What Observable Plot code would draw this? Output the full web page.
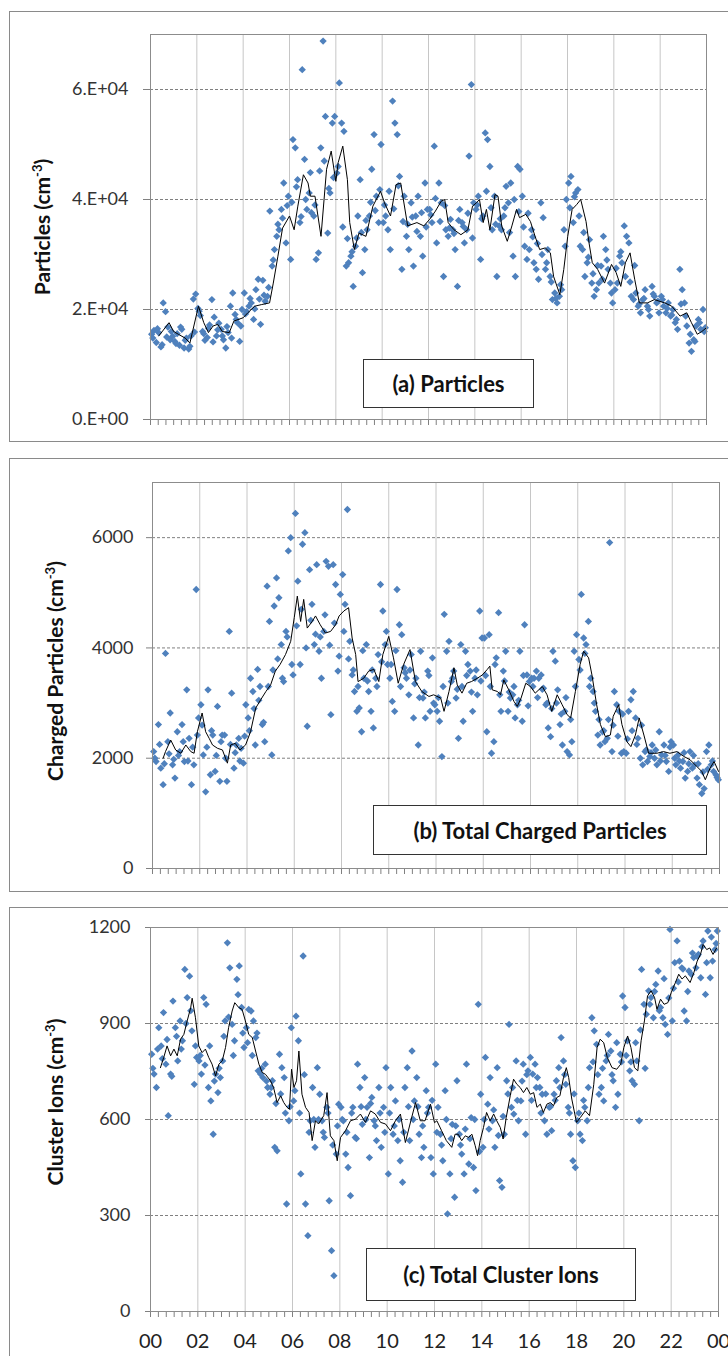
<!DOCTYPE html>
<html><head><meta charset="utf-8">
<script src="https://cdn.jsdelivr.net/npm/d3@7"></script>
<script src="https://cdn.jsdelivr.net/npm/@observablehq/plot@0.6"></script>
<style>
html,body{margin:0;padding:0;background:#fff;width:728px;height:1356px;overflow:hidden;font-family:Lato,sans-serif;}
#root{position:relative;width:728px;height:1356px;overflow:hidden;}
.box{position:absolute;border:1px solid #8a8a8a;box-sizing:border-box;}
.ytitle{position:absolute;font-weight:bold;font-size:21px;white-space:nowrap;transform:translate(-50%,-50%) rotate(-90deg);color:#111;}
.ytitle sup{font-size:0.62em;}
.note{position:absolute;border:1.5px solid #333;background:#fff;font-weight:bold;font-size:22px;display:flex;align-items:center;justify-content:center;box-sizing:border-box;color:#111;white-space:nowrap;}
</style></head>
<body><div id="root"></div>
<script>
// ---------- tick labels ----------
const hourTicks = [0,2,4,6,8,10,12,14,16,18,20,22,24];
const hourLabels = ["00","02","04","06","08","10","12","14","16","18","20","22","00"];
const yTicks1 = [0,20000,40000,60000];
const yLabels1 = ["0.E+00","2.E+04","4.E+04","6.E+04"];
const yTicks2 = [0,2000,4000,6000];
const yLabels2 = ["0","2000","4000","6000"];
const yTicks3 = [0,300,600,900,1200];
const yLabels3 = ["0","300","600","900","1200"];

// ---------- (a) particles, scatter (thousands cm^-3), one row per hour ----------
const particlesK = [
[15.5,16.2,14.0,15.8,13.2,21.2,19.6,16.8,14.5,15.1],
[14.2,15.6,13.5,16.4,13.0,14.8,12.8,15.2,21.9,22.8],
[20.2,18.9,16.0,14.4,14.9,17.2,21.8,18.6,15.2,17.5],
[16.4,14.5,13.0,15.8,20.6,23.0,19.1,17.6,14.2,20.0],
[23.0,19.6,20.6,21.2,18.2,23.6,25.5,17.3,25.3,21.5],
[22.4,37.9,27.9,30.9,33.3,34.5,38.2,43.0,32.1,40.6],
[29.1,50.9,49.4,43.6,35.8,63.6,47.3,38.2,41.2,37.6],
[37.0,29.1,30.3,49.4,68.8,55.1,33.9,41.2,53.9,55.1],
[44.8,61.2,53.9,52.4,27.9,28.5,29.7,24.2,31.5,37.0],
[43.6,26.7,30.9,34.5,37.0,45.5,51.8,40.6,35.8,50.0],
[35.8,37.0,34.5,30.9,57.9,53.9,51.8,44.2,27.3,40.6],
[33.3,30.9,39.4,27.9,37.0,40.6,33.3,29.7,43.0,38.2],
[38.2,35.8,49.7,32.1,43.0,39.4,26.0,34.5,33.3,36.4],
[34.5,30.9,24.2,38.2,35.8,32.1,34.5,47.9,60.9,39.4],
[38.2,40.6,29.1,37.0,52.1,50.9,46.0,34.5,40.6,26.0],
[35.2,34.5,37.0,42.4,39.4,43.0,29.7,26.0,46.0,45.5],
[40.6,31.5,29.1,30.9,34.5,28.5,27.3,25.5,39.4,36.7],
[27.3,30.9,26.0,21.8,23.0,21.2,22.4,23.6,34.5,40.0],
[43.0,44.2,35.8,41.2,41.8,31.5,30.9,26.0,28.5,32.7],
[24.8,22.4,23.6,24.8,27.9,33.3,30.9,27.3,24.8,21.2],
[23.6,24.8,29.7,28.5,35.2,33.3,32.1,22.4,21.8,23.0],
[20.6,19.4,21.8,23.6,20.6,18.8,24.2,22.4,21.2,19.4],
[22.4,20.6,19.4,21.2,18.8,20.0,17.6,16.4,27.3,23.6],
[21.2,17.0,13.9,12.4,14.5,17.0,18.2,16.4,20.0,16.7]
];
// further readings between the above (five per hour)
const particlesK2 = [
[14.8,16.5,13.6,15.0,16.0],[13.8,16.8,14.4,13.3,15.9],[19.7,15.6,16.6,14.1,16.3],[15.2,16.9,14.8,18.2,17.0],
[19.2,22.0,20.1,21.9,22.6],[24.0,29.0,35.5,36.6,38.9],[39.5,42.3,36.9,40.0,44.9],[39.0,45.2,47.0,42.0,44.0],
[46.0,35.0,32.9,30.5,33.0],[34.0,36.2,39.5,38.0,41.8],[39.0,41.5,38.3,42.5,36.0],[35.5,36.8,34.2,37.6,35.0],
[37.2,40.2,36.0,38.9,34.8],[33.8,36.2,35.1,37.5,33.0],[39.0,36.5,41.5,38.5,35.5],[36.5,38.5,34.0,40.0,37.8],
[35.0,37.5,33.2,32.0,30.0],[28.5,25.0,22.0,24.5,31.5],[38.5,40.5,37.0,34.0,29.5],[26.5,28.0,25.5,29.0,23.0],
[27.5,30.5,26.0,25.0,28.0],[21.0,22.0,20.0,22.8,21.5],[21.8,20.2,19.0,18.2,21.0],[18.8,15.5,14.2,17.6,16.0]
];
const particlesLineHours = [0.36,0.8,1.0,1.2,1.5,1.7,2.07,2.3,2.5,2.7,2.9,3.1,3.4,3.6,4.0,4.2,4.5,4.8,5.14,5.3,5.5,5.7,6.0,6.2,6.36,6.6,6.8,6.9,7.1,7.36,7.6,7.8,8.0,8.1,8.3,8.5,8.6,8.8,9.0,9.3,9.6,9.93,10.1,10.36,10.6,10.8,11.1,11.5,11.8,12.05,12.3,12.55,12.7,12.85,13.1,13.4,13.7,13.9,14.07,14.2,14.36,14.5,14.65,14.87,15.0,15.16,15.4,15.6,15.8,15.93,16.2,16.4,16.6,16.8,17.04,17.26,17.4,17.67,17.84,18.01,18.2,18.4,18.57,18.8,18.93,19.07,19.3,19.6,19.9,20.1,20.3,20.5,20.7,20.9,21.1,21.45,21.75,22.2,22.5,22.86,23.15,23.35,23.6,23.8,24.0];
const particlesLineK = [15.2,17.6,16.0,15.5,14.8,13.9,20.6,17.6,15.8,17.0,17.3,16.0,15.8,17.9,18.5,19.4,20.6,20.9,21.2,24.8,29.7,34.8,37.0,34.5,38.8,44.5,43.0,40.6,40.6,33.3,45.5,48.8,43.3,46.7,49.7,43.6,35.8,30.9,33.9,33.3,38.8,41.5,39.4,37.0,42.7,43.0,35.2,35.8,35.2,36.4,37.9,39.7,40.0,35.8,34.5,33.6,34.5,38.8,39.4,40.0,35.8,38.2,34.5,40.9,40.6,35.2,32.4,35.2,38.2,36.7,37.3,36.0,33.3,30.9,31.2,30.3,26.0,22.7,27.3,33.3,38.2,39.1,40.0,36.0,32.1,28.5,27.3,24.8,28.2,26.7,24.2,28.5,30.3,25.5,21.2,21.2,21.8,21.2,20.6,18.8,19.4,17.6,15.5,16.0,16.7];

// ---------- (b) total charged particles ----------
const charged = [
[2120,1940,2610,1820,1520,3900,2300,2820,1880,1640],
[2480,2120,2610,1940,3240,2360,1520,1880,5060,2730],
[2970,2060,1390,3240,1700,2420,1760,2940,1580,2420],
[2420,1580,4300,3180,1820,2240,2360,2180,1910,2970],
[2730,3450,3210,2240,3610,3300,2610,2300,5120,4480],
[2060,4760,5270,4910,4060,3390,4300,5760,6000,3510],
[6440,5210,3700,5880,6090,2580,5420,4790,4060,5510],
[3940,3450,4300,5570,5480,2790,5510,5150,3580,4970],
[5330,4790,6510,4120,3510,3210,2850,2910,2480,3450],
[4060,3210,2850,2550,3450,3880,5150,4670,4060,3700],
[3450,3030,2850,5060,4420,4240,3640,3450,3150,3880],
[2730,3450,2240,3940,3090,2730,3580,2850,3820,2970],
[2850,2670,2030,4610,3940,4120,3390,3580,3090,2360],
[4060,2670,3940,3700,3580,2850,3450,3150,4670,4180],
[4180,2480,4240,2090,2300,3820,4640,2850,3580,3940],
[2850,3090,3150,2730,2970,3940,2670,4420,3510,3390],
[3450,3450,3580,3450,3510,3270,2970,2550,2390,3940],
[3760,3240,2610,2240,2850,2120,2060,2300,3940,4240],
[3790,4970,4180,4060,4480,3450,3210,2850,2420,2240],
[2480,2300,2360,5910,2120,3210,2970,2850,2090,2120],
[2090,2850,3060,3210,2730,2360,2000,1880,2120,1940],
[2030,2240,2000,1880,2480,2060,2240,1940,1760,2300],
[2240,1880,2060,1820,1940,1640,1760,2120,1820,1880],
[1640,1520,1360,1450,2120,2240,1880,1760,1700,1610]
];
const charged2 = [
[2000,2250,1900,2080,1980],[2050,2300,1950,2200,2420],[2600,2200,2500,2050,2300],[2000,2250,2100,1950,2400],
[2500,2900,3050,2650,3300],[3600,3800,3450,4200,3700],[4400,4700,4000,4500,4250],[4200,4600,4050,4450,3850],
[4300,3800,3600,3300,3950],[3400,3600,3300,3750,4300],[3700,3950,3300,3550,3600],[3350,3100,3200,3500,3000],
[3100,3300,3000,3450,3250],[3300,3500,3200,3600,3400],[3500,3300,3700,3150,3400],[3200,3300,3050,3500,2950],
[3300,3100,3250,3000,2900],[3000,2800,3100,2700,3300],[3600,3900,3300,3000,2700],[2500,2700,2600,2400,2800],
[2350,2500,2250,2600,2150],[2100,2150,1950,2050,2200],[2000,1950,2100,1900,2050],[1900,1750,1800,1950,1650]
];
const chargedLineHours = [0.45,0.55,0.77,0.98,1.2,1.41,1.62,1.76,1.9,2.1,2.25,2.4,2.54,2.75,2.96,3.17,3.31,3.5,3.7,3.94,4.15,4.37,4.58,4.8,5.0,5.2,5.4,5.63,5.85,6.0,6.13,6.27,6.4,6.55,6.76,6.9,7.1,7.32,7.54,7.75,7.9,8.1,8.3,8.45,8.6,8.7,8.94,9.15,9.37,9.58,9.75,10.0,10.2,10.4,10.63,10.9,11.13,11.4,11.7,11.9,12.2,12.34,12.55,12.76,12.9,13.1,13.3,13.5,13.75,13.96,14.17,14.28,14.38,14.6,14.73,14.87,15.08,15.3,15.44,15.6,15.8,16.0,16.2,16.5,16.7,16.9,17.13,17.34,17.55,17.7,17.9,18.1,18.25,18.46,18.6,18.8,18.96,19.17,19.38,19.5,19.73,19.87,20.08,20.25,20.44,20.6,20.8,21.0,21.35,21.63,21.9,22.2,22.5,22.76,23.04,23.25,23.4,23.6,23.77,23.96];
const chargedLine = [2000,2120,2330,2150,2090,2240,2120,2090,2480,2820,2480,2360,2240,2180,2150,1910,2240,2270,2150,2240,2480,2910,3060,3210,3330,3580,3700,3880,4120,4550,4940,4480,4880,4360,4480,4580,4420,4270,4300,4420,4580,4670,4730,4180,3880,3390,3450,3580,3610,3390,3880,4210,3820,3360,3700,3970,3390,3210,3120,3150,3090,2850,3210,3640,3330,3180,3360,3390,3450,3510,3610,3670,3240,3210,3150,3420,3240,3030,2940,3090,3360,3300,3180,3300,3150,2850,3150,2970,2790,2730,3210,3700,3940,3820,3510,2970,2610,2390,2420,2760,2970,2610,2300,2210,2420,2730,2420,2090,2090,2120,2090,2120,2030,1970,1850,1760,1610,1820,1940,1760];

// ---------- (c) total cluster ions ----------
const cluster = [
[804,742,700,887,830,934,773,612,742,970],
[887,783,908,846,1069,981,1048,877,710,794],
[783,742,981,960,700,658,554,742,684,731],
[783,908,1152,1074,897,846,1038,1080,950,825],
[887,944,939,908,856,752,742,731,773,700],
[679,721,513,502,804,762,731,336,596,887],
[658,923,846,430,1111,336,237,596,700,513],
[762,679,596,544,638,346,190,112,492,648],
[638,596,492,450,362,638,544,773,700,585],
[731,638,481,669,596,534,700,513,638,762],
[430,700,554,658,534,471,404,700,762,534],
[814,658,731,554,481,513,690,638,481,430],
[773,638,554,471,690,305,430,585,357,721],
[554,492,430,773,461,606,450,378,960,679],
[513,794,648,731,596,513,762,409,388,554],
[721,897,638,617,783,596,658,773,554,752],
[794,742,773,731,700,679,596,554,638,565],
[679,721,762,856,783,710,638,554,471,450],
[596,554,534,638,596,762,918,877,835,679],
[700,658,783,866,814,721,638,679,804,986],
[950,846,752,721,710,783,596,1069,960,929],
[1002,981,918,1022,1064,950,918,897,866,1194],
[908,1090,1158,1095,1074,939,908,1064,1054,1106],
[1074,1116,1043,1158,991,1189,1043,1095,1131,1189]
];
const cluster2 = [
[760,820,790,850,735],[860,820,900,940,830],[800,770,830,720,760],[860,920,800,990,870],
[840,800,870,760,720],[700,650,680,620,640],[690,620,740,560,600],[600,560,620,520,580],
[600,560,620,540,640],[600,650,580,620,560],[620,580,600,560,640],[600,640,580,620,660],
[560,520,600,540,580],[520,570,540,600,500],[600,570,630,550,610],[680,700,660,720,740],
[660,700,620,680,640],[660,700,740,620,680],[620,660,700,780,740],[760,800,740,840,780],
[800,780,840,880,760],[960,1000,940,1040,980],[1010,1030,1070,1000,1120],[1110,1140,1090,1170,1150]
];
const clusterLineHours = [0.42,0.56,0.7,0.85,0.99,1.13,1.27,1.41,1.55,1.7,1.76,1.9,2.04,2.18,2.32,2.46,2.6,2.75,2.89,3.03,3.17,3.3,3.45,3.56,3.73,3.87,4.01,4.15,4.3,4.44,4.58,4.72,4.86,5.07,5.2,5.35,5.5,5.63,5.77,5.87,5.96,6.06,6.17,6.27,6.4,6.55,6.7,6.83,6.97,7.1,7.32,7.46,7.6,7.75,7.89,8.03,8.24,8.45,8.66,8.87,9.08,9.3,9.5,9.72,9.93,10.14,10.35,10.56,10.77,11.0,11.2,11.4,11.6,11.83,12.0,12.1,12.3,12.5,12.73,12.87,13.0,13.15,13.3,13.44,13.58,13.72,13.82,13.93,14.07,14.2,14.35,14.5,14.63,14.78,14.9,15.03,15.2,15.34,15.48,15.62,15.76,15.9,16.05,16.19,16.33,16.47,16.6,16.75,16.9,17.03,17.17,17.3,17.45,17.57,17.67,17.8,18.0,18.16,18.37,18.55,18.73,18.87,19.0,19.15,19.3,19.5,19.7,19.87,20.0,20.16,20.3,20.45,20.59,20.73,20.87,21.0,21.15,21.3,21.4,21.55,21.7,21.86,22.0,22.18,22.32,22.46,22.6,22.8,22.96,23.1,23.24,23.35,23.5,23.63,23.77,23.92];
const clusterLine = [762,794,830,799,820,799,851,866,908,950,979,918,830,809,820,794,773,736,773,783,825,887,939,965,950,944,908,866,856,814,773,747,741,721,700,653,674,653,638,632,757,700,721,814,679,638,622,534,596,586,612,684,549,534,471,544,565,596,601,617,591,627,617,591,586,565,596,617,528,596,653,596,596,648,590,596,565,534,513,554,554,534,549,544,554,518,487,534,575,622,596,617,596,575,539,606,674,726,710,700,684,700,679,684,638,648,622,648,653,643,669,674,731,762,731,664,591,606,627,612,710,825,851,840,794,762,757,773,825,861,825,762,752,846,908,986,1002,981,944,976,960,965,996,1028,1054,1039,1049,1028,1059,1095,1116,1147,1131,1136,1116,1136];

// ---------- annotation / axis texts ----------
const titles = ["Particles (cm<sup>-3</sup>)","Charged Particles (cm<sup>-3</sup>)","Cluster Ions (cm<sup>-3</sup>)"];
const notes = ["(a) Particles","(b) Total Charged Particles","(c) Total Cluster Ions"];

const root = document.getElementById("root");
function add(tag, cls, css, html) {
  const el = document.createElement(tag);
  el.className = cls; Object.assign(el.style, css);
  if (html != null) el.innerHTML = html;
  root.appendChild(el); return el;
}

// outer panel boxes
add("div","box",{left:"9px",top:"11px",width:"760px",height:"431px"});
add("div","box",{left:"9px",top:"458px",width:"760px",height:"434px"});
add("div","box",{left:"9px",top:"907px",width:"760px",height:"500px"});

function panel(o) {
  const pts = o.rows.flatMap((row, h) => row.map((v, k) => ({t: h + (k + 0.5) / row.length, v: v * o.scale})))
    .concat(o.rows2.flatMap((row, h) => row.map((v, k) => ({t: h + (k + 0.5) / row.length, v: v * o.scale}))));
  const line = o.lineHours.map((t, i) => ({t, v: o.lineValues[i] * o.scale}));
  const yMap = new Map(o.yTicks.map((d, i) => [d, o.yLabels[i]]));
  const xMap = new Map(hourTicks.map((d, i) => [d, hourLabels[i]]));
  const minor = d3.range(0, 72.5, 1).map(d => d / 3);
  const marks = [
    Plot.gridX(hourTicks, {stroke: "#c6c6c6", strokeOpacity: 1}),
    Plot.gridY(o.yTicks.filter(d => d > 0), {stroke: "#808080", strokeOpacity: 1, strokeDasharray: "3,2"}),
    Plot.axisY(o.yTicks, {tickSize: o.yTickSize, tickPadding: o.yPad, tickFormat: d => yMap.get(d), fontSize: 18, fill: "#333", stroke: "#808080", label: null}),
    Plot.axisX(minor, {tickSize: 6, tickFormat: () => "", stroke: "#808080", label: null}),
    Plot.dot(pts, {x: "t", y: "v", symbol: "diamond2", r: 3.3, fill: "#4F81BD", stroke: "none"}),
    Plot.line(line, {x: "t", y: "v", stroke: "#000", strokeWidth: 1}),
    Plot.frame({stroke: "#8c8c8c"})
  ];
  if (o.showX) marks.push(Plot.axisX(hourTicks, {tickSize: 0, tickPadding: 22, tickFormat: d => xMap.get(d), fontSize: 20, fill: "#222", label: null}));
  const svg = Plot.plot({
    width: 728, height: o.height,
    marginTop: o.mt, marginBottom: o.mb, marginLeft: o.ml, marginRight: o.mr,
    style: {background: "transparent", fontFamily: "Lato, sans-serif", overflow: "visible"},
    x: {domain: [0, 24]},
    y: {domain: [0, o.yMax]},
    marks
  });
  svg.style.position = "absolute"; svg.style.left = "0px"; svg.style.top = o.top + "px";
  root.appendChild(svg);
}

panel({top: 0, height: 445, mt: 34, mb: 26, ml: 150, mr: 22, yMax: 70000, yTicks: yTicks1, yLabels: yLabels1, yTickSize: 7, yPad: 15,
  rows: particlesK, rows2: particlesK2, scale: 1000, lineHours: particlesLineHours, lineValues: particlesLineK, showX: false});
panel({top: 450, height: 445, mt: 32, mb: 27, ml: 152, mr: 9, yMax: 7000, yTicks: yTicks2, yLabels: yLabels2, yTickSize: 6, yPad: 13,
  rows: charged, rows2: charged2, scale: 1, lineHours: chargedLineHours, lineValues: chargedLine, showX: false});
panel({top: 900, height: 456, mt: 27, mb: 45, ml: 150, mr: 10, yMax: 1200, yTicks: yTicks3, yLabels: yLabels3, yTickSize: 5, yPad: 15,
  rows: cluster, rows2: cluster2, scale: 1, lineHours: clusterLineHours, lineValues: clusterLine, showX: true});

// y titles
add("div","ytitle",{left:"41px",top:"227px"}, titles[0]);
add("div","ytitle",{left:"54px",top:"671px"}, titles[1]);
add("div","ytitle",{left:"54px",top:"1102px"}, titles[2]);

// annotation boxes
add("div","note",{left:"363px",top:"359px",width:"171px",height:"49px"}, notes[0]);
add("div","note",{left:"373px",top:"805px",width:"334px",height:"50px"}, notes[1]);
add("div","note",{left:"366px",top:"1248px",width:"270px",height:"53px"}, notes[2]);
</script>
</body></html>
